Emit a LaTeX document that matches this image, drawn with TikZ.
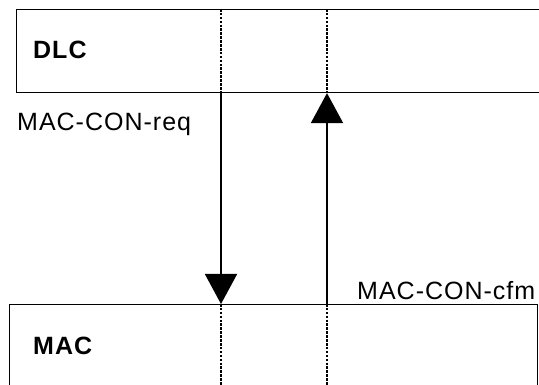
\documentclass[tikz,border=0pt]{standalone}
\usepackage{fontspec}
\setmainfont{Liberation Sans}[LetterSpace=4]
\usetikzlibrary{arrows.meta}
\begin{document}
\begin{tikzpicture}[x=1pt,y=-1pt,
  layerbox/.style={draw=black,line width=1.1pt,anchor=north west,inner sep=0pt},
  lab/.style={anchor=base west,inner sep=0pt,font=\fontsize{25}{29}\selectfont},
  blab/.style={lab,font=\fontsize{25}{29}\selectfont\bfseries},
  sap/.style={line width=1.8pt,dash pattern=on 2.6pt off 1.3pt},
  prim/.style={line width=1.7pt,-{Triangle[width=32pt,length=30pt]}}]
\useasboundingbox (0,0) rectangle (539,385);
\clip (0,0) rectangle (539,385);
% layer boxes
\node[layerbox,minimum width=540pt,minimum height=83pt] (dlc) at (15.5,9) {};
\node[layerbox,minimum width=528pt,minimum height=100pt] (mac) at (9,304) {};
\node[blab] (dlcl) at (33,59) {DLC};
\node[blab] (macl) at (33,355) {MAC};
% service access points
\coordinate (reqT) at (221,9);
\coordinate (cfmT) at (327,9);
\coordinate (reqS) at (reqT |- dlc.south);
\coordinate (reqE) at (reqT |- mac.north);
\coordinate (cfmS) at (cfmT |- mac.north);
\coordinate (cfmE) at (cfmT |- dlc.south);
\coordinate (reqB) at (reqT |- mac.south);
\coordinate (cfmB) at (cfmT |- mac.south);
\draw[sap] (reqT) -- (reqS);
\draw[sap] (cfmT) -- (cfmE);
\draw[sap] (reqE) -- (reqB);
\draw[sap] (cfmS) -- (cfmB);
% primitives
\draw[prim] (reqS) -- (reqE);
\draw[prim] (cfmS) -- (cfmE);
\node[lab] (req) at (17,131) {MAC-CON-req};
\node[lab] (cfm) at (357,299) {MAC-CON-cfm};
\end{tikzpicture}
\end{document}
